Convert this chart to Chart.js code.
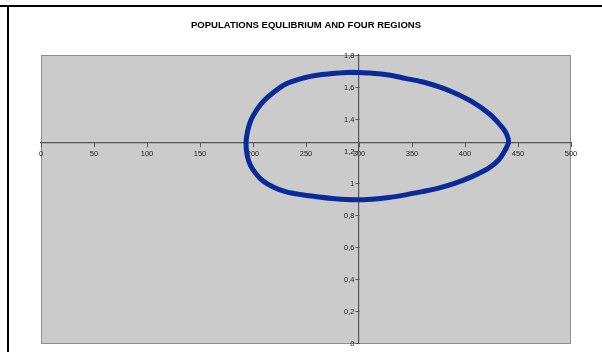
<!DOCTYPE html>
<html>
<head>
<meta charset="utf-8">
<script src="https://cdn.jsdelivr.net/npm/chart.js@4.4.0/dist/chart.umd.min.js"></script>
<style>
html, body { margin: 0; padding: 0; background: #fff; }
#wrap { position: relative; width: 602px; height: 352px; overflow: hidden; }
#topLine { position: absolute; left: 0; top: 5px; width: 602px; height: 2px; background: #000; }
#leftLine { position: absolute; left: 7px; top: 5px; width: 2px; height: 347px; background: #000; }
</style>
</head>
<body>
<div id="wrap">
  <canvas id="popChart" width="602" height="352"></canvas>
  <div id="topLine"></div>
  <div id="leftLine"></div>
</div>
<script>
// Chart title
const chartTitle = 'POPULATIONS EQULIBRIUM AND FOUR REGIONS';

// Cycle points (x = prey, y = predators), clockwise from the top
const xValues = [
  293.4, 312.3, 327.9, 343.7, 359.4, 375.1, 390.8, 406.6, 422.3, 431.7,
  438.0, 441.1, 438.0, 431.7, 422.3, 406.6, 390.8, 375.1, 359.4, 343.7,
  327.9, 312.3, 296.5, 277.6, 261.9, 246.2, 230.5, 219.0, 209.5, 202.8,
  197.5, 194.6, 193.4, 194.8, 198.0, 203.5, 210.5, 219.5, 230.5, 246.2,
  261.9, 277.6, 293.4
];
const yValues = [
  1.692, 1.686, 1.675, 1.654, 1.633, 1.602, 1.561, 1.508, 1.436, 1.374,
  1.321, 1.259, 1.207, 1.144, 1.093, 1.040, 0.999, 0.968, 0.946, 0.926,
  0.909, 0.899, 0.895, 0.901, 0.912, 0.926, 0.946, 0.975, 1.012, 1.058,
  1.112, 1.170, 1.250, 1.320, 1.392, 1.457, 1.515, 1.567, 1.617, 1.654,
  1.675, 1.686, 1.692
];

// Axis ranges and where the axes cross (the equilibrium)
const xTicks = { min: 0, max: 500, step: 50 };
const yTicks = { min: 0, max: 1.8, step: 0.2 };
const equilibrium = { x: 300, y: 1.25 };

const tickFont = { family: 'Liberation Sans, Arial', size: 7.5 };

// Grey plot area like the spreadsheet
const plotBackground = {
  id: 'plotBackground',
  beforeDraw(chart) {
    const { ctx, chartArea } = chart;
    ctx.save();
    ctx.fillStyle = '#cbcbcb';
    ctx.fillRect(chartArea.left, chartArea.top, chartArea.width, chartArea.height);
    ctx.strokeStyle = '#8e8e8e';
    ctx.lineWidth = 1;
    ctx.strokeRect(chartArea.left + 0.5, chartArea.top + 0.5, chartArea.width - 1, chartArea.height);
    ctx.restore();
  }
};

// y tick marks and labels sit on the left of the crossing axis
const yAxisLabels = {
  id: 'yAxisLabels',
  afterDraw(chart) {
    const { ctx } = chart;
    const yScale = chart.scales.y;
    const axisX = Math.round(chart.scales.x.getPixelForValue(equilibrium.x)) + 0.5;
    ctx.save();
    ctx.strokeStyle = '#555';
    ctx.lineWidth = 1;
    ctx.fillStyle = '#222';
    ctx.font = tickFont.size + 'px ' + tickFont.family;
    ctx.textAlign = 'right';
    ctx.textBaseline = 'middle';
    yScale.ticks.forEach(t => {
      const py = Math.round(yScale.getPixelForValue(t.value)) + 0.5;
      ctx.beginPath();
      ctx.moveTo(axisX - 4, py);
      ctx.lineTo(axisX, py);
      ctx.stroke();
      ctx.fillText(commaLabel(t.value), axisX - 5, py);
    });
    ctx.restore();
  }
};

function commaLabel(value) {
  return String(Math.round(value * 10) / 10).replace('.', ',');
}

const points = xValues.map((x, i) => ({ x: x, y: yValues[i] }));

const ctx = document.getElementById('popChart').getContext('2d');
const chart = new Chart(ctx, {
  type: 'scatter',
  data: {
    datasets: [{
      label: 'cycle',
      data: points,
      showLine: true,
      borderColor: '#0b2a99',
      backgroundColor: '#0b2a99',
      borderWidth: 5,
      pointRadius: 0,
      tension: 0.3
    }]
  },
  options: {
    responsive: false,
    animation: false,
    devicePixelRatio: 1,
    layout: {
      padding: { top: 20, left: 41, right: 31, bottom: 9 }
    },
    plugins: {
      legend: { display: false },
      tooltip: { enabled: false },
      title: {
        display: true,
        text: chartTitle,
        color: '#000',
        font: { family: 'Liberation Sans, Arial', size: 9.5, weight: 'bold', lineHeight: 1.2 },
        padding: { top: 0, bottom: 23.6 }
      }
    },
    scales: {
      x: {
        type: 'linear',
        min: xTicks.min,
        max: xTicks.max,
        position: { y: equilibrium.y },
        ticks: {
          stepSize: xTicks.step,
          autoSkip: false,
          maxRotation: 0,
          color: '#222',
          padding: 2,
          font: tickFont
        },
        grid: { drawOnChartArea: false, drawTicks: true, tickLength: 4, color: '#555' },
        border: { display: true, color: '#555', width: 1.2 }
      },
      y: {
        type: 'linear',
        min: yTicks.min,
        max: yTicks.max,
        position: { x: equilibrium.x },
        ticks: {
          stepSize: yTicks.step,
          autoSkip: false,
          display: false
        },
        grid: { drawOnChartArea: false, drawTicks: false, color: '#555' },
        border: { display: true, color: '#555', width: 1.2 }
      }
    }
  },
  plugins: [plotBackground, yAxisLabels]
});
</script>
</body>
</html>
